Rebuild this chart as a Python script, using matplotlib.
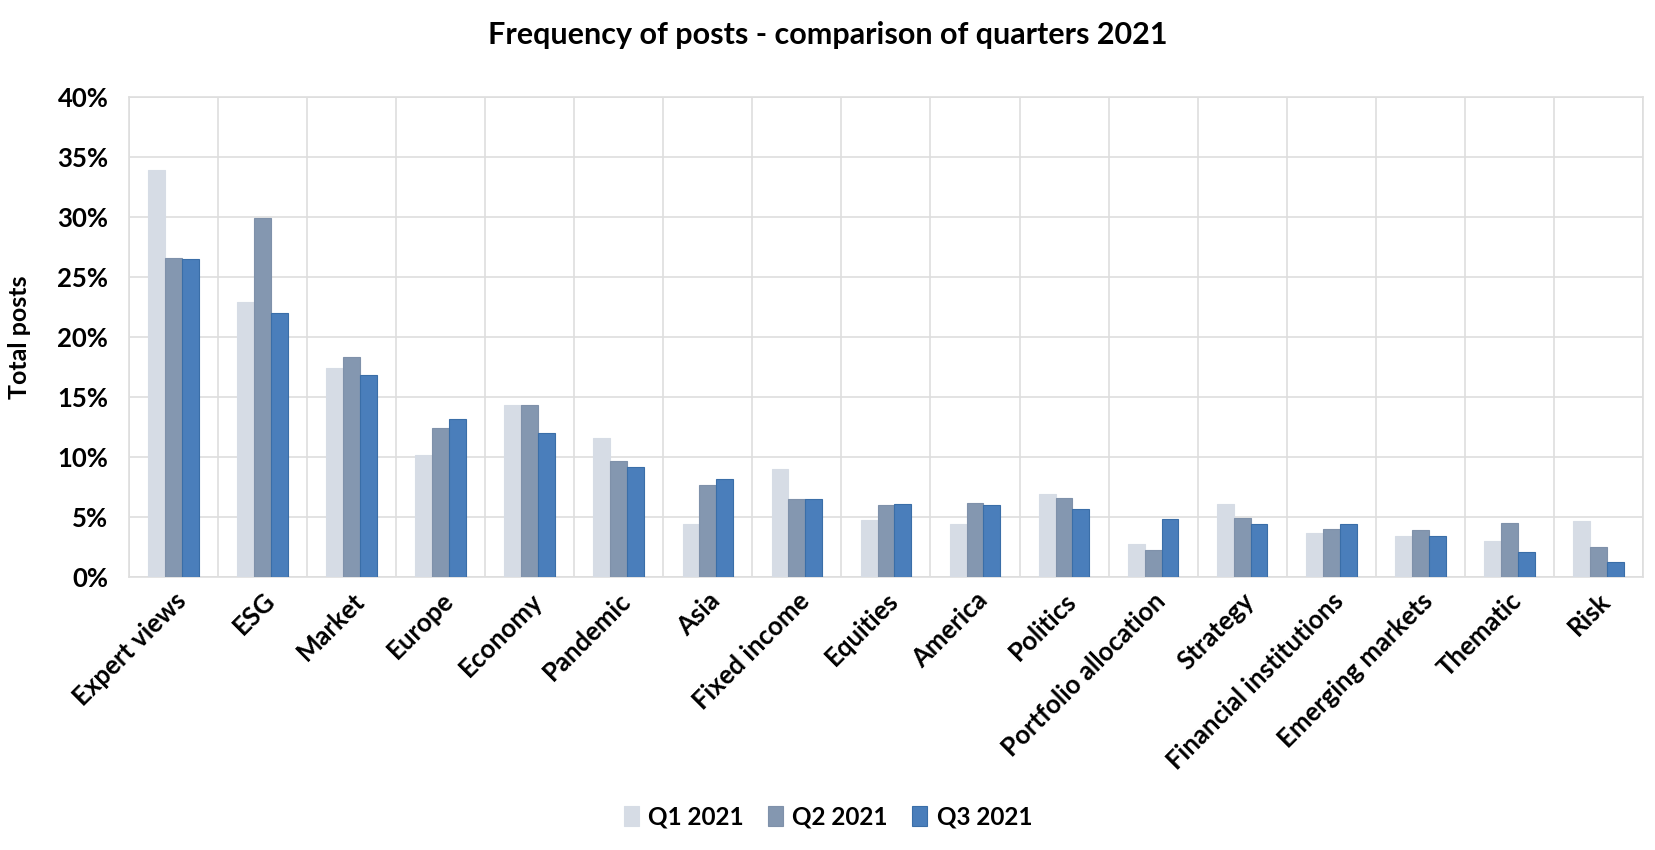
import matplotlib
matplotlib.use("Agg")
import matplotlib.pyplot as plt
import numpy as np
from matplotlib.ticker import PercentFormatter

categories = ["Expert views", "ESG", "Market", "Europe", "Economy", "Pandemic", "Asia",
              "Fixed income", "Equities", "America", "Politics", "Portfolio allocation",
              "Strategy", "Financial institutions", "Emerging markets", "Thematic", "Risk"]
q1_2021 = [33.9, 22.9, 17.4, 10.2, 14.3, 11.6, 4.4, 9.0, 4.8, 4.4, 6.9, 2.8, 6.1, 3.7, 3.4, 3.0, 4.7]
q2_2021 = [26.6, 29.9, 18.3, 12.4, 14.3, 9.7, 7.7, 6.5, 6.0, 6.2, 6.6, 2.3, 4.9, 4.0, 3.9, 4.5, 2.5]
q3_2021 = [26.5, 22.0, 16.8, 13.2, 12.0, 9.2, 8.2, 6.5, 6.1, 6.0, 5.7, 4.85, 4.4, 4.4, 3.4, 2.1, 1.3]
series_labels = ["Q1 2021", "Q2 2021", "Q3 2021"]
y_ticks = [0, 5, 10, 15, 20, 25, 30, 35, 40]

plt.rcParams['font.family'] = ['Lato', 'DejaVu Sans']

fig = plt.figure(figsize=(16.56, 8.5), dpi=100)
ax = fig.add_axes([0.078, 0.321, 0.914, 0.565])

x = np.arange(len(categories))
w = 0.19
colors = ['#D6DCE5', '#8497B0', '#4A7EBB']
edges = ['#D6DCE5', '#7F91AA', '#3A6EA8']
for i, (vals, lab) in enumerate(zip([q1_2021, q2_2021, q3_2021], series_labels)):
    ax.bar(x + (i - 1) * w, vals, width=w, color=colors[i], edgecolor=edges[i],
           linewidth=0.8, label=lab, zorder=3)

ax.set_xlim(-0.5, len(categories) - 0.5)
ax.set_ylim(0, 40)
ax.set_yticks(y_ticks)
ax.yaxis.set_major_formatter(PercentFormatter(decimals=0))
ax.set_xticks(x)
ax.set_xticklabels(categories, rotation=45, ha='right', rotation_mode='anchor',
                   fontsize=18.5, fontweight='bold')
for lbl in ax.get_yticklabels():
    lbl.set_fontsize(18.5)
    lbl.set_fontweight('bold')
ax.tick_params(axis='x', length=0, pad=8)
ax.tick_params(axis='y', length=0, pad=15)

ax.set_xticks(np.arange(-0.5, len(categories), 1), minor=True)
ax.grid(axis='y', which='major', color='#DEDEDE', linewidth=1.2, zorder=0)
ax.grid(axis='x', which='minor', color='#DEDEDE', linewidth=1.2, zorder=0)
ax.tick_params(axis='x', which='minor', length=0)
for s in ax.spines.values():
    s.set_color('#DEDEDE')
    s.set_linewidth(1.2)

ax.set_ylabel("Total posts", fontsize=18, fontweight='bold', labelpad=19)

fig.suptitle("Frequency of posts - comparison of quarters 2021", x=0.5, y=0.975,
             fontsize=22, fontweight='bold')

fig.legend(loc='lower center', bbox_to_anchor=(0.5, 0.0), ncol=3, frameon=False,
           prop={'size': 17.5, 'weight': 'bold'}, handlelength=0.6, handleheight=0.9,
           handletextpad=0.4, columnspacing=1.0)

fig.savefig("out.png", dpi=100, facecolor='white')
